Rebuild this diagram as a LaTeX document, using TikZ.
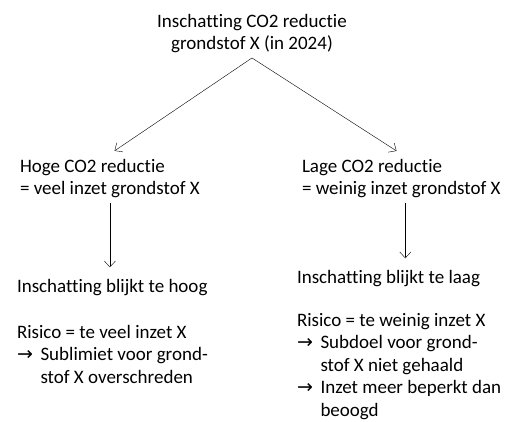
\documentclass[tikz,border=0pt]{standalone}
\usepackage{fontspec}
\setmainfont[Ligatures=CommonOff]{Carlito}
\newfontfamily\pijlfont{DejaVu Sans}
\usetikzlibrary{arrows.meta, positioning}

\newcommand{\pijl}{\makebox[23.5pt][l]{\pijlfont →}}
\newcommand{\inspring}{\hspace*{23.5pt}}

\begin{document}
\begin{tikzpicture}[x=1pt, y=-1pt]
	\tikzset{->, >={Straight Barb[length=6pt, width=11pt]}, line width=1.3pt,
		every node/.style={inner sep=0pt, outer sep=5pt, align=left, font=\fontsize{19}{22.5}\selectfont},
		tekst/.style={anchor=north west}}
	\useasboundingbox (0,0) rectangle (512,421);

	\node[anchor=north, align=center] (titel) at (252,9) {Inschatting CO2 reductie\\grondstof X (in 2024)};
	\node[tekst] (hoog) at (15,154) {Hoge CO2 reductie\\= veel inzet grondstof X};
	\node[tekst] (laag) at (297,154) {Lage CO2 reductie\\= weinig inzet grondstof X};
	\node[tekst] (hoogres) at (12,274) {Inschatting blijkt te hoog};
	\node[tekst] (laagres) at (292,265) {Inschatting blijkt te laag};
	\node[tekst] (hoogrisico) at (12,320) {Risico = te veel inzet X\\
		\pijl Sublimiet voor grond-\\
		\inspring stof X overschreden};
	\node[tekst] (laagrisico) at (292,308) {Risico = te weinig inzet X\\
		\pijl Subdoel voor grond-\\
		\inspring stof X niet gehaald\\
		\pijl Inzet meer beperkt dan\\
		\inspring beoogd};

	\draw[shorten >=5pt] (titel.south) -- (hoog.north);
	\draw[shorten >=5pt] (titel.south) -- (laag.north);
	\draw[shorten >=6pt] (hoog.south) -- (hoog.south |- hoogres.north);
	\draw[shorten >=6pt] ([xshift=4pt]laag.south) -- ([xshift=4pt]laag.south |- laagres.north);
\end{tikzpicture}
\end{document}
